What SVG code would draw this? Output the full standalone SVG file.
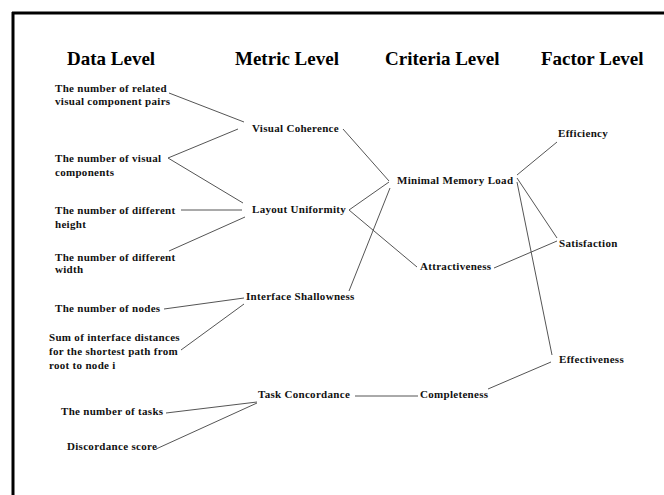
<svg xmlns="http://www.w3.org/2000/svg" width="664" height="495" viewBox="0 0 664 495">
<style>
.h{font-family:"Liberation Serif","Times New Roman",serif;font-weight:bold;font-size:19px;fill:#000}
.t{font-family:"Liberation Serif","Times New Roman",serif;font-weight:bold;font-size:11px;letter-spacing:0.3px;fill:#111}
.c line{stroke:#555;stroke-width:1}
</style>
<rect width="664" height="495" fill="#fff"/>
<g id="frame">
<line x1="12" y1="13" x2="664" y2="13" stroke="#000" stroke-width="3"/>
<line x1="13" y1="12" x2="13" y2="495" stroke="#000" stroke-width="3"/>
</g>
<g id="headers">
<text class="h" x="67" y="65">Data Level</text>
<text class="h" x="235" y="65">Metric Level</text>
<text class="h" x="385" y="65">Criteria Level</text>
<text class="h" x="541" y="65">Factor Level</text>
</g>
<g id="d1"><text class="t" x="55" y="92">The number of related</text><text class="t" x="55" y="105">visual component pairs</text></g>
<g id="d2"><text class="t" x="55" y="162">The number of visual</text><text class="t" x="55" y="176">components</text></g>
<g id="d3"><text class="t" x="55" y="214">The number of different</text><text class="t" x="55" y="228">height</text></g>
<g id="d4"><text class="t" x="55" y="261">The number of different</text><text class="t" x="55" y="273">width</text></g>
<g id="d5"><text class="t" x="55" y="312">The number of nodes</text></g>
<g id="d6"><text class="t" x="49" y="341">Sum of interface distances</text><text class="t" x="49" y="355">for the shortest path from</text><text class="t" x="49" y="369">root to node i</text></g>
<g id="d7"><text class="t" x="61" y="415">The number of tasks</text></g>
<g id="d8"><text class="t" x="67" y="450">Discordance score</text></g>
<g id="m1"><text class="t" x="252" y="132">Visual Coherence</text></g>
<g id="m2"><text class="t" x="252" y="213">Layout Uniformity</text></g>
<g id="m3"><text class="t" x="246" y="300">Interface Shallowness</text></g>
<g id="m4"><text class="t" x="258" y="398">Task Concordance</text></g>
<g id="c1"><text class="t" x="397" y="184">Minimal Memory Load</text></g>
<g id="c2"><text class="t" x="420" y="270">Attractiveness</text></g>
<g id="c3"><text class="t" x="420" y="398">Completeness</text></g>
<g id="f1"><text class="t" x="558" y="137">Efficiency</text></g>
<g id="f2"><text class="t" x="559" y="247">Satisfaction</text></g>
<g id="f3"><text class="t" x="559" y="363">Effectiveness</text></g>
<g id="connectors" class="c">
<line x1="169" y1="93" x2="244" y2="122"/>
<line x1="168" y1="158" x2="238" y2="129"/>
<line x1="168" y1="158" x2="243" y2="203"/>
<line x1="181" y1="210" x2="242" y2="210"/>
<line x1="169" y1="251" x2="245" y2="217"/>
<line x1="164" y1="309" x2="244" y2="298"/>
<line x1="181" y1="350" x2="244" y2="304"/>
<line x1="166" y1="413" x2="257" y2="402"/>
<line x1="156" y1="449" x2="257" y2="403"/>
<line x1="343" y1="129" x2="389" y2="181"/>
<line x1="349" y1="210" x2="389" y2="182"/>
<line x1="349" y1="210" x2="417" y2="267"/>
<line x1="349" y1="291" x2="390" y2="188"/>
<line x1="355" y1="396" x2="418" y2="396"/>
<line x1="517" y1="175" x2="557" y2="142"/>
<line x1="517" y1="178" x2="557" y2="238"/>
<line x1="517" y1="182" x2="552" y2="355"/>
<line x1="494" y1="268" x2="557" y2="241"/>
<line x1="488" y1="389" x2="551" y2="362"/>
</g>
</svg>
